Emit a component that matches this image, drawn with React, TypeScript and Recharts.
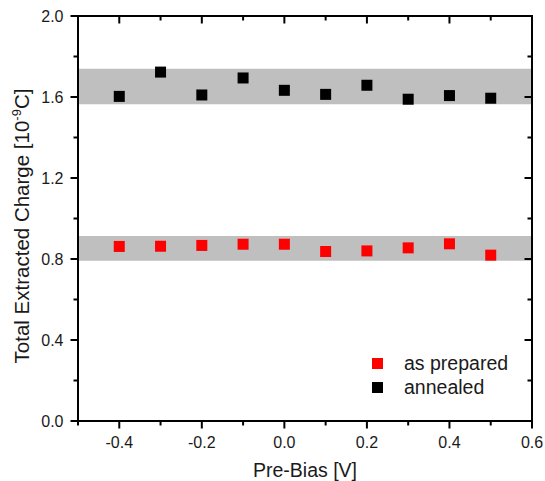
import React from 'react';
import { ScatterChart, Scatter, XAxis, YAxis, ReferenceArea, Legend } from 'recharts';

// pre-bias voltages [V]
const preBias = [-0.4, -0.3, -0.2, -0.1, 0.0, 0.1, 0.2, 0.3, 0.4, 0.5];
// total extracted charge [1e-9 C]
const asPrepared = [0.862, 0.863, 0.867, 0.873, 0.873, 0.837, 0.84, 0.855, 0.875, 0.819];
const annealed = [1.603, 1.723, 1.61, 1.694, 1.633, 1.613, 1.658, 1.589, 1.607, 1.594];

// grey bands (spread of each series)
const preparedBand = [0.791, 0.913];
const annealedBand = [1.564, 1.74];

const xDomain = [-0.5, 0.6];
const yDomain = [0, 2];
const xTicks = [-0.5, -0.4, -0.3, -0.2, -0.1, 0.0, 0.1, 0.2, 0.3, 0.4, 0.5, 0.6];
const yTicks = [0, 0.2, 0.4, 0.6, 0.8, 1.0, 1.2, 1.4, 1.6, 1.8, 2.0];

const preparedData = preBias.map((v, i) => ({ x: v, y: asPrepared[i] }));
const annealedData = preBias.map((v, i) => ({ x: v, y: annealed[i] }));

const FONT = '"Liberation Sans", Arial, sans-serif';
const INK = '#000000';
const MAJOR = 7.5;
const MINOR = 4.5;

// layout
const W = 545;
const H = 481;
const M = { top: 16, right: 13, bottom: 0, left: 0 };
const Y_AXIS_W = 78;
const X_AXIS_H = 60;
const PLOT_W = W - M.left - M.right - Y_AXIS_W;
const PLOT_H = H - M.top - M.bottom - X_AXIS_H;

const isMajorX = (v: number) => Math.round(v * 10) % 2 === 0;
const isMajorY = (v: number) => Math.round(v * 10) % 4 === 0;
const fmt = (v: number) => (Math.abs(v) < 1e-9 ? 0 : v).toFixed(1);

// bottom ticks point outward, the mirrored top ticks point into the plot
const BottomTick = (props: any) => {
  const x = Number(props.x);
  const y = Number(props.y);
  const major = isMajorX(props.payload.value);
  const len = major ? MAJOR : MINOR;
  const top = y - PLOT_H;
  return (
    <g>
      <line x1={x} x2={x} y1={y} y2={y + len} stroke={INK} strokeWidth={2} />
      <line x1={x} x2={x} y1={top} y2={top + len} stroke={INK} strokeWidth={2} />
      {major && (
        <text x={x} y={y + 26.5} textAnchor="middle" fontSize={16} fontFamily={FONT} fill="#1a1a1a">
          {fmt(props.payload.value)}
        </text>
      )}
    </g>
  );
};

const LeftTick = (props: any) => {
  const x = Number(props.x);
  const y = Number(props.y);
  const major = isMajorY(props.payload.value);
  const len = major ? MAJOR : MINOR;
  const right = x + PLOT_W;
  return (
    <g>
      <line x1={x} x2={x - len} y1={y} y2={y} stroke={INK} strokeWidth={2} />
      <line x1={right} x2={right - len} y1={y} y2={y} stroke={INK} strokeWidth={2} />
      {major && (
        <text x={x - 14.5} y={y + 5.7} textAnchor="end" fontSize={16} fontFamily={FONT} fill="#1a1a1a">
          {fmt(props.payload.value)}
        </text>
      )}
    </g>
  );
};

const Square = ({ cx, cy, fill }: any) => (
  <rect x={cx - 5.5} y={cy - 5.5} width={11} height={11} fill={fill} />
);

const YTitle = () => (
  <text
    x={29}
    y={226}
    transform="rotate(-90 29 226)"
    textAnchor="middle"
    fontSize={20.5}
    fontFamily={FONT}
    fill="#1a1a1a"
  >
    Total Extracted Charge [10
    <tspan dy={-8} fontSize={13}>-9</tspan>
    <tspan dy={8}>C]</tspan>
  </text>
);

const XTitle = () => (
  <text x={305} y={477} textAnchor="middle" fontSize={19.5} fontFamily={FONT} fill="#1a1a1a">
    Pre-Bias [V]
  </text>
);

const LegendBox = () => (
  <div style={{ fontFamily: FONT, fontSize: 19.5, color: '#1a1a1a' }}>
    {[
      { name: 'as prepared', color: '#ff0000' },
      { name: 'annealed', color: '#000000' },
    ].map((item) => (
      <div key={item.name} style={{ display: 'flex', alignItems: 'center', height: 24 }}>
        <span style={{ width: 11, height: 11, background: item.color, display: 'inline-block' }} />
        <span style={{ marginLeft: 21 }}>{item.name}</span>
      </div>
    ))}
  </div>
);

export default function App() {
  return (
    <div style={{ position: 'absolute', left: 0, top: 0, background: '#fff' }}>
      <ScatterChart width={W} height={H} margin={M}>
        <XAxis
          xAxisId="b"
          type="number"
          dataKey="x"
          domain={xDomain}
          ticks={xTicks}
          interval={0}
          height={X_AXIS_H}
          tickSize={0}
          tickMargin={0}
          tick={<BottomTick />}
          axisLine={{ stroke: INK, strokeWidth: 2 }}
          tickLine={false}
          allowDataOverflow
          label={XTitle}
        />
        <YAxis
          yAxisId="l"
          type="number"
          dataKey="y"
          domain={yDomain}
          ticks={yTicks}
          interval={0}
          width={Y_AXIS_W}
          tickSize={0}
          tickMargin={0}
          tick={<LeftTick />}
          axisLine={{ stroke: INK, strokeWidth: 2 }}
          tickLine={false}
          allowDataOverflow
          label={YTitle}
        />
        <ReferenceArea
          xAxisId="b"
          yAxisId="l"
          y1={annealedBand[0]}
          y2={annealedBand[1]}
          fill="#bfbfbf"
          fillOpacity={1}
          stroke="none"
        />
        <ReferenceArea
          xAxisId="b"
          yAxisId="l"
          y1={preparedBand[0]}
          y2={preparedBand[1]}
          fill="#bfbfbf"
          fillOpacity={1}
          stroke="none"
        />
        {/* plot frame */}
        <ReferenceArea
          xAxisId="b"
          yAxisId="l"
          x1={xDomain[0]}
          x2={xDomain[1]}
          y1={yDomain[0]}
          y2={yDomain[1]}
          fill="#ffffff"
          fillOpacity={0}
          stroke={INK}
          strokeOpacity={1}
          strokeWidth={2}
          ifOverflow="visible"
        />
        <Scatter
          name="as prepared"
          xAxisId="b"
          yAxisId="l"
          data={preparedData}
          fill="#ff0000"
          shape={<Square />}
          isAnimationActive={false}
        />
        <Scatter
          name="annealed"
          xAxisId="b"
          yAxisId="l"
          data={annealedData}
          fill="#000000"
          shape={<Square />}
          isAnimationActive={false}
        />
        <Legend
          layout="vertical"
          align="center"
          verticalAlign="middle"
          content={<LegendBox />}
          wrapperStyle={{ left: 372, top: 351, width: 'auto', height: 'auto' }}
        />
      </ScatterChart>
    </div>
  );
}
